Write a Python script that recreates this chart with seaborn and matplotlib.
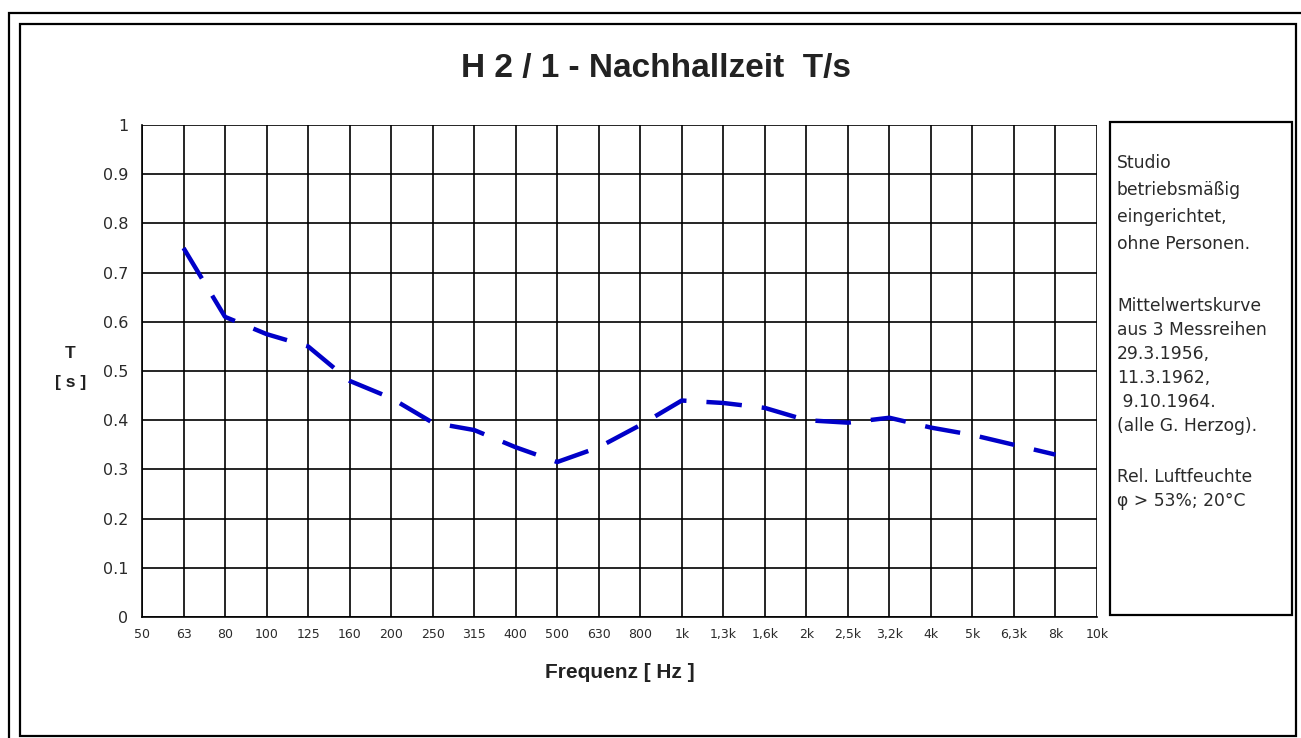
import matplotlib
matplotlib.use("Agg")
import matplotlib.pyplot as plt
import seaborn as sns
import pandas as pd
from matplotlib.patches import Rectangle

# ---- data ----
freq_labels = ["50", "63", "80", "100", "125", "160", "200", "250", "315", "400",
               "500", "630", "800", "1k", "1,3k", "1,6k", "2k", "2,5k", "3,2k",
               "4k", "5k", "6,3k", "8k", "10k"]
meas_labels = ["63", "80", "100", "125", "160", "200", "250", "315", "400", "500",
               "630", "800", "1k", "1,3k", "1,6k", "2k", "2,5k", "3,2k", "4k",
               "5k", "6,3k", "8k"]
T_values = [0.75, 0.61, 0.575, 0.55, 0.48, 0.445, 0.395, 0.38, 0.345, 0.315,
            0.345, 0.39, 0.44, 0.435, 0.425, 0.40, 0.395, 0.405, 0.385,
            0.37, 0.35, 0.33]
y_ticks = [0, 0.1, 0.2, 0.3, 0.4, 0.5, 0.6, 0.7, 0.8, 0.9, 1]
y_tick_labels = ["0", "0.1", "0.2", "0.3", "0.4", "0.5", "0.6", "0.7", "0.8", "0.9", "1"]
title = "H 2 / 1 - Nachhallzeit  T/s"
note_lines = ["Studio", "betriebsmäßig", "eingerichtet,", "ohne Personen.",
              "Mittelwertskurve", "aus 3 Messreihen", "29.3.1956,", "11.3.1962,",
              " 9.10.1964.", "(alle G. Herzog).", "Rel. Luftfeuchte",
              "φ > 53%; 20°C"]

df = pd.DataFrame({
    "pos": [freq_labels.index(l) for l in meas_labels],
    "T": T_values,
})

sns.set_theme(style="white")
plt.rcParams["font.family"] = ["Liberation Sans", "DejaVu Sans"]

W, H = 1301, 738
fig = plt.figure(figsize=(W / 100, H / 100), dpi=100)
fig.patch.set_facecolor("white")

# outer frames
fig.add_artist(Rectangle((9 / W, -0.05), 1.2, 1 - 13 / H + 0.05, transform=fig.transFigure,
                         fill=False, edgecolor="black", linewidth=1.6))
fig.add_artist(Rectangle((20 / W, 2 / H), (1296 - 20) / W, (738 - 24 - 2) / H,
                         transform=fig.transFigure, fill=False, edgecolor="black", linewidth=1.6))

left, right, top, bottom = 142, 1097, 125, 617
ax = fig.add_axes([left / W, (H - bottom) / H, (right - left) / W, (bottom - top) / H])

sns.lineplot(data=df, x="pos", y="T", ax=ax, color="#0000c8", linewidth=3.2,
             dashes=False, zorder=5)
ax.lines[0].set_dashes((8, 4.5))
ax.lines[0].set_solid_capstyle("butt")

small_font = ["DejaVu Sans"]
ax.set_xlim(0, len(freq_labels) - 1)
ax.set_ylim(0, 1)
ax.set_xticks(range(len(freq_labels)))
ax.set_xticklabels(freq_labels, fontsize=9, color="#2a2a2a", family=small_font)
ax.set_yticks(y_ticks)
ax.set_yticklabels(y_tick_labels, fontsize=11.5, color="#2a2a2a", family=small_font)
ax.grid(True, color="black", linewidth=1.2)
ax.set_axisbelow(True)
for s in ax.spines.values():
    s.set_visible(False)
ax.spines["left"].set_visible(True)
ax.spines["bottom"].set_visible(True)
ax.spines["left"].set_color("black")
ax.spines["bottom"].set_color("black")
ax.spines["left"].set_linewidth(1.2)
ax.spines["bottom"].set_linewidth(1.2)
ax.tick_params(axis="y", direction="out", length=5, width=1.2, color="black", pad=5)
ax.tick_params(axis="x", direction="inout", length=10, width=1.2, color="black", pad=3)
ax.set_xlabel("")
ax.set_ylabel("")

fig.text(656 / W, 1 - 69 / H, title, ha="center", va="center", fontsize=24,
         fontweight="bold", color="#222222")
fig.text(620 / W, 1 - 673 / H, "Frequenz [ Hz ]", ha="center", va="center",
         fontsize=15, fontweight="bold", color="#222222")
fig.text(70 / W, 1 - 353 / H, "T", ha="center", va="center",
         fontsize=12.5, fontweight="bold", color="#222222")
fig.text(71 / W, 1 - 382 / H, "[ s ]", ha="center", va="center",
         fontsize=12.5, fontweight="bold", color="#222222")

# annotation box
fig.add_artist(Rectangle((1110 / W, (H - 615) / H), (1292 - 1110) / W, (615 - 122) / H,
                         transform=fig.transFigure, fill=False, edgecolor="black",
                         linewidth=1.6))
note_y = [163, 190, 217, 244, 306, 330, 354, 378, 402, 426, 477, 501]
for line, yy in zip(note_lines, note_y):
    fig.text(1117 / W, 1 - yy / H, line, ha="left", va="center",
             fontsize=12.3, color="#2a2a2a", family=small_font)

fig.savefig("out.png", dpi=100, facecolor="white")
